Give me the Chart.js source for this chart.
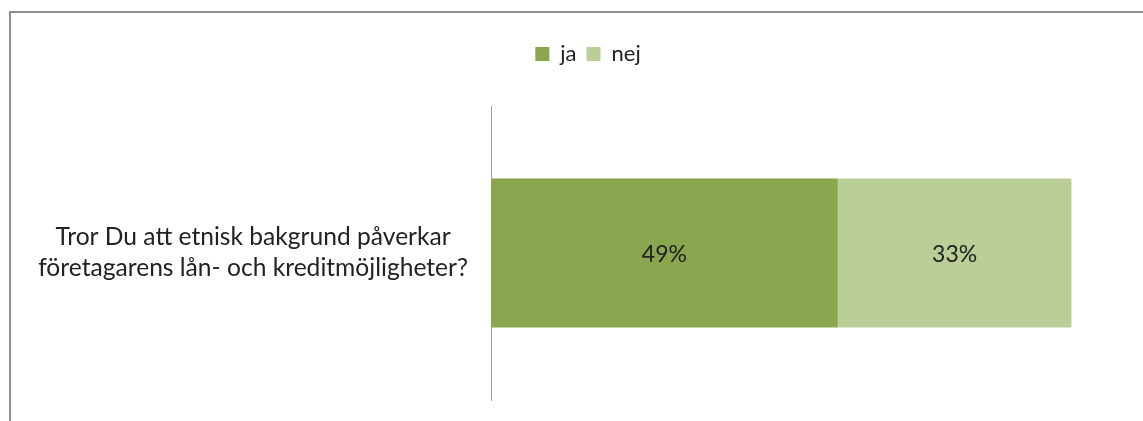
<!DOCTYPE html>
<html>
<head>
<meta charset="utf-8">
<script src="https://cdn.jsdelivr.net/npm/chart.js@4"></script>
<style>
  html, body { margin: 0; padding: 0; overflow: hidden; background: #fff; }
  #frame { position: absolute; left: 9px; top: 11px; width: 2000px; height: 1000px;
           border-top: 2px solid #8e8e8e; border-left: 2px solid #8e8e8e; }
  #wrap { position: absolute; left: 0; top: 0; width: 1143px; height: 421px; }
</style>
</head>
<body>
<div id="frame"></div>
<div id="wrap"><canvas id="chart" width="1143" height="421"></canvas></div>
<script>
const categories = [['Tror Du att etnisk bakgrund påverkar', 'företagarens lån- och kreditmöjligheter?']]
const seriesNames = ['ja', 'nej']
const jaValues = [49]
const nejValues = [33]
const colors = ['#8aa64f', '#bbce98']

const data = {
    labels: categories,
    datasets: [{
        label: seriesNames[0],
        data: jaValues,
        backgroundColor: colors[0]
    }, {
        label: seriesNames[1],
        data: nejValues,
        backgroundColor: colors[1]
    }]
}

// percent text in the middle of each bar piece
const barText = {
    id: 'barText',
    afterDatasetsDraw(chart) {
        const {ctx} = chart
        ctx.save()
        ctx.font = '23px Lato'
        ctx.fillStyle = '#222'
        ctx.textAlign = 'center'
        ctx.textBaseline = 'middle'
        chart.data.datasets.forEach((ds, i) => {
            chart.getDatasetMeta(i).data.forEach((bar, j) => {
                const cx = (bar.x + bar.base) / 2
                ctx.fillText(ds.data[j] + '%', cx, bar.y + 2)
            })
        })
        ctx.restore()
    }
}

// extra room under the legend, and nudge it right like the original
const legendSpace = {
    id: 'legendSpace',
    beforeInit(chart) {
        const fit = chart.legend.fit
        chart.legend.fit = function () {
            fit.bind(chart.legend)()
            this.height += 31
        }
    },
    afterLayout(chart) {
        chart.legend.left += 14
        chart.legend.right += 14
    }
}

const config = {
    type: 'bar',
    data,
    options: {
        indexAxis: 'y',
        responsive: false,
        animation: false,
        layout: { padding: { top: 33, bottom: 21, right: 15, left: 20 } },
        plugins: {
            legend: {
                position: 'top',
                labels: {
                    boxWidth: 14,
                    boxHeight: 14,
                    padding: 10,
                    color: '#222',
                    font: { family: 'Lato', size: 22 }
                }
            },
            tooltip: { enabled: false }
        },
        scales: {
            x: {
                stacked: true,
                display: false,
                min: 0,
                max: 90
            },
            y: {
                stacked: true,
                grid: { display: false, drawTicks: false },
                border: { display: true, color: '#a0a0a0', width: 1 },
                ticks: {
                    crossAlign: 'center',
                    padding: 23,
                    color: '#222',
                    font: { family: 'Lato', size: 24.6, lineHeight: 1.26 }
                },
                afterFit(scale) {
                    scale.width = 471
                    scale.paddingTop = 0
                    scale.paddingBottom = 0
                }
            }
        },
        datasets: { bar: { categoryPercentage: 1, barPercentage: 0.507 } }
    },
    plugins: [barText, legendSpace]
}

const myChart = new Chart(document.getElementById('chart'), config)
</script>
</body>
</html>
